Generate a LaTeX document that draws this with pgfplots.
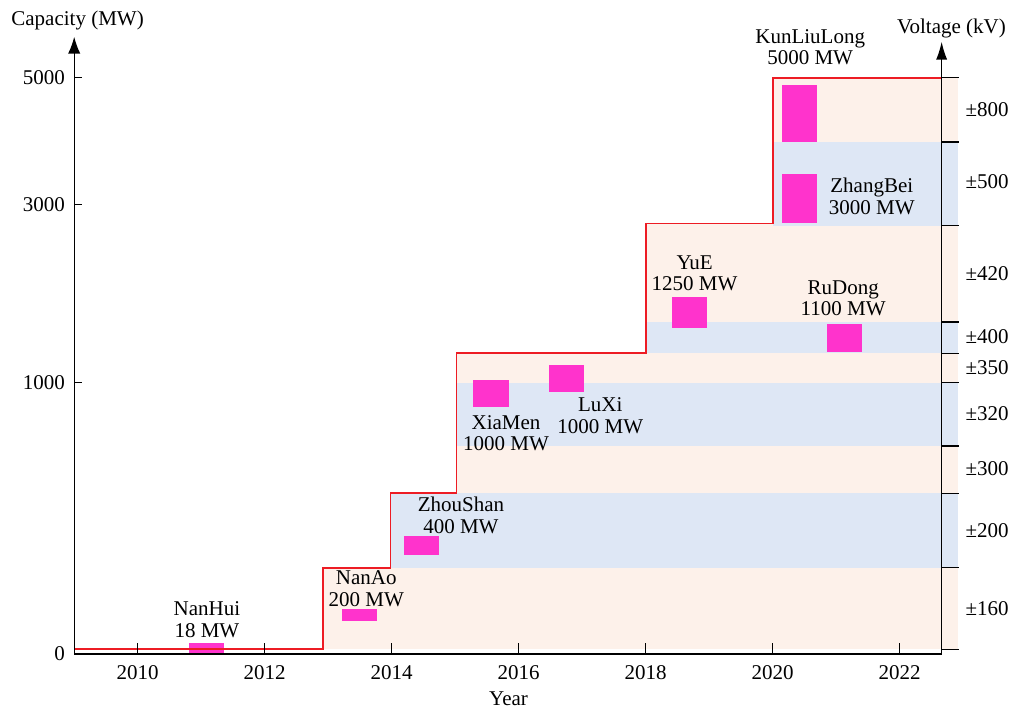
\documentclass[border=0pt]{standalone}
\usepackage{fontspec}
\setmainfont{Liberation Serif}
\usepackage{pgfplots}
\pgfplotsset{compat=1.18}
\usetikzlibrary{arrows.meta}
\definecolor{peach}{RGB}{253,241,234}
\definecolor{lblue}{RGB}{222,231,245}
\definecolor{mag}{RGB}{255,51,204}
\definecolor{redl}{RGB}{237,28,36}
\begin{document}
\fontsize{10.5pt}{10.9pt}\selectfont
\begin{tikzpicture}
\begin{axis}[
  scale only axis, width=433.705pt, height=308.65pt,
  xmin=2009, xmax=2022.66, ymin=0, ymax=617.3,
  enlargelimits=false, clip=false, axis on top,
  axis x line=bottom, axis y line=left,
  axis line style={line width=0.7pt},
  x axis line style={-},
  y axis line style={-{Latex[length=8.5pt,width=6.2pt]}},
  xtick={2010,2012,2014,2016,2018,2020,2022},
  xticklabels={2010,2012,2014,2016,2018,2020,2022},
  ytick={0,271.3,449.3,576.3}, yticklabels={0,1000,3000,5000},
  major tick length=0pt,
  xticklabel style={inner sep=0pt, anchor=north, yshift=-5.5pt},
  yticklabel style={inner sep=0pt, anchor=east, xshift=-4.5pt},
]
% invisible frame giving the picture its size
\path (axis cs:2007.8315,-57) rectangle (axis cs:2023.784,654);
% voltage bands
\addplot[fill=peach, draw=none] coordinates {(2012.92,4.7) (2022.91,4.7) (2022.91,86.3) (2012.92,86.3)} -- cycle;
\addplot[fill=lblue, draw=none] coordinates {(2013.98,86.3) (2022.91,86.3) (2022.91,160.7) (2013.98,160.7)} -- cycle;
\addplot[fill=peach, draw=none] coordinates {(2015.02,160.7) (2022.91,160.7) (2022.91,208) (2015.02,208)} -- cycle;
\addplot[fill=lblue, draw=none] coordinates {(2015.02,208) (2022.91,208) (2022.91,271.3) (2015.02,271.3)} -- cycle;
\addplot[fill=peach, draw=none] coordinates {(2015.02,271.3) (2022.91,271.3) (2022.91,300.7) (2015.02,300.7)} -- cycle;
\addplot[fill=lblue, draw=none] coordinates {(2018.0,300.5) (2022.91,300.5) (2022.91,332) (2018.0,332)} -- cycle;
\addplot[fill=peach, draw=none] coordinates {(2018.0,332) (2022.91,332) (2022.91,430.5) (2018.0,430.5)} -- cycle;
\addplot[fill=lblue, draw=none] coordinates {(2020.0,428.3) (2022.91,428.3) (2022.91,512) (2020.0,512)} -- cycle;
\addplot[fill=peach, draw=none] coordinates {(2020.0,512) (2022.91,512) (2022.91,576.3) (2020.0,576.3)} -- cycle;
% projects
\addplot[fill=mag, draw=none] coordinates {(2010.81,-1) (2011.36,-1) (2011.36,10.7) (2010.81,10.7)} -- cycle;
\addplot[fill=mag, draw=none] coordinates {(2013.21,33.3) (2013.77,33.3) (2013.77,45) (2013.21,45)} -- cycle;
\addplot[fill=mag, draw=none] coordinates {(2014.19,99.3) (2014.75,99.3) (2014.75,118.3) (2014.19,118.3)} -- cycle;
\addplot[fill=mag, draw=none] coordinates {(2015.28,247.3) (2015.84,247.3) (2015.84,274) (2015.28,274)} -- cycle;
\addplot[fill=mag, draw=none] coordinates {(2016.48,262.3) (2017.03,262.3) (2017.03,289) (2016.48,289)} -- cycle;
\addplot[fill=mag, draw=none] coordinates {(2018.41,325.7) (2018.97,325.7) (2018.97,356.7) (2018.41,356.7)} -- cycle;
\addplot[fill=mag, draw=none] coordinates {(2020.85,302.3) (2021.41,302.3) (2021.41,330) (2020.85,330)} -- cycle;
\addplot[fill=mag, draw=none] coordinates {(2020.15,512.3) (2020.70,512.3) (2020.70,569) (2020.15,569)} -- cycle;
\addplot[fill=mag, draw=none] coordinates {(2020.15,431.3) (2020.70,431.3) (2020.70,479.7) (2020.15,479.7)} -- cycle;
% cumulative capacity step line
\addplot[redl, line width=0.85pt] coordinates {
  (2009,4.7) (2012.92,4.7) (2012.92,86.3) (2013.98,86.3) (2013.98,160.7)
  (2015.02,160.7) (2015.02,300.7) (2018.0,300.7) (2018.0,430.5)
  (2020.0,430.5) (2020.0,576.3) (2022.66,576.3)};
% tick marks (inward)
\addplot[black, line width=0.7pt, ycomb, mark=none] coordinates {(2010,11) (2012,11) (2014,11) (2016,11) (2018,11) (2020,11) (2022,11)};
\addplot[black, line width=0.7pt] coordinates {(2009,271.3) (2009.12,271.3)};
\addplot[black, line width=0.7pt] coordinates {(2009,449.3) (2009.12,449.3)};
\addplot[black, line width=0.7pt] coordinates {(2009,576.3) (2009.12,576.3)};
% project labels
\node[align=center, inner sep=0pt] at (axis cs:2011.09,34.3) {NanHui\\18 MW};
\node[align=center, inner sep=0pt] at (axis cs:2013.60,65) {NanAo\\200 MW};
\node[align=center, inner sep=0pt] at (axis cs:2015.09,138.5) {ZhouShan\\400 MW};
\node[align=center, inner sep=0pt] at (axis cs:2015.80,220.7) {XiaMen\\1000 MW};
\node[align=center, inner sep=0pt] at (axis cs:2017.285,238) {LuXi\\1000 MW};
\node[align=center, inner sep=0pt] at (axis cs:2018.77,380.7) {YuE\\1250 MW};
\node[align=center, inner sep=0pt] at (axis cs:2021.11,355.7) {RuDong\\1100 MW};
\node[align=center, inner sep=0pt] at (axis cs:2021.56,457.3) {ZhangBei\\3000 MW};
\node[align=center, inner sep=0pt] at (axis cs:2020.59,606.8) {KunLiuLong\\5000 MW};
% voltage labels
\node[anchor=west, inner sep=0pt] at (axis cs:2023.03,544.3) {±800};
\node[anchor=west, inner sep=0pt] at (axis cs:2023.03,472) {±500};
\node[anchor=west, inner sep=0pt] at (axis cs:2023.03,380) {±420};
\node[anchor=west, inner sep=0pt] at (axis cs:2023.03,317.2) {±400};
\node[anchor=west, inner sep=0pt] at (axis cs:2023.03,286.5) {±350};
\node[anchor=west, inner sep=0pt] at (axis cs:2023.03,240) {±320};
\node[anchor=west, inner sep=0pt] at (axis cs:2023.03,185.3) {±300};
\node[anchor=west, inner sep=0pt] at (axis cs:2023.03,123) {±200};
\node[anchor=west, inner sep=0pt] at (axis cs:2023.03,45.7) {±160};
% axis titles
\node[anchor=base west, inner sep=0pt] at (axis cs:2008.005,628.3) {Capacity (MW)};
\node[anchor=base west, inner sep=0pt] at (axis cs:2021.953,620.7) {Voltage (kV)};
\node[anchor=base, inner sep=0pt] at (axis cs:2015.84,-51.7) {Year};
\end{axis}
% right-hand voltage axis
\begin{axis}[
  scale only axis, width=433.705pt, height=306.15pt,
  xmin=2009, xmax=2022.66, ymin=0, ymax=612.3,
  enlargelimits=false,
  axis x line=none, axis y line=right,
  axis line style={line width=0.7pt},
  y axis line style={-{Latex[length=9pt,width=5.6pt]}},
  ytick={4.7,86.3,160.7,208,271.3,300.5,332,428.3,512,576.3}, yticklabels={},
  tick align=outside, major tick length=8.5pt,
  tick style={black, line width=0.7pt},
]
\end{axis}
\end{tikzpicture}
\end{document}
